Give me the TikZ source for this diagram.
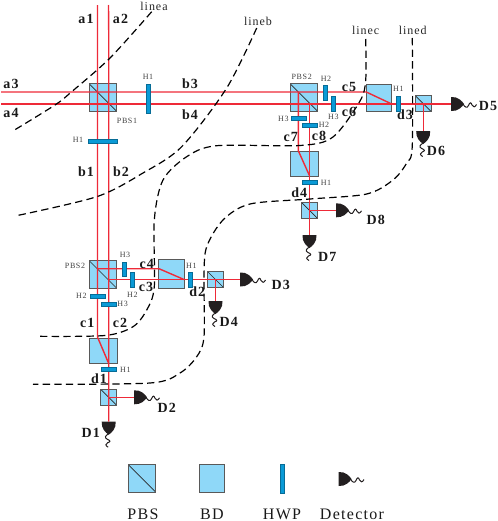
\documentclass[tikz,border=0pt]{standalone}
\usepackage{fontspec}
\setmainfont[LetterSpace=8]{Liberation Serif}
\definecolor{cubeblue}{HTML}{8FD8F8}
\definecolor{plateblue}{HTML}{0A9AD6}
\definecolor{beamred}{HTML}{EE2A38}
\definecolor{detblack}{HTML}{231F20}
\begin{document}
\begin{tikzpicture}[
  x=0.75pt, y=-0.75pt,
  cube/.style={draw=black!65, line width=0.7pt, fill=cubeblue, inner sep=0pt},
  pbs/.style={cube, minimum size=#1,
    path picture={\draw[line width=0.5pt, black!85] (path picture bounding box.north west) -- (path picture bounding box.south east);}},
  bd/.style={cube, minimum width=19pt, minimum height=20.5pt},
  hwph/.style={draw=plateblue!70!black, line width=0.2pt, fill=plateblue, inner sep=0pt, minimum width=11pt, minimum height=3pt},
  hwpv/.style={draw=plateblue!70!black, line width=0.2pt, fill=plateblue, inner sep=0pt, minimum width=3pt, minimum height=11pt},
  beam/.style={draw=beamred, line width=1.05pt},
  cut/.style={draw=black, line width=0.9pt, dash pattern=on 5.5pt off 3.2pt},
  lab/.style={font=\fontsize{10.5}{11}\selectfont\bfseries, inner sep=0pt, text=black!90},
  plate/.style={font=\fontsize{6}{6}\selectfont, inner sep=0pt, text=black!75},
  linelab/.style={font=\fontsize{9}{10}\selectfont, inner sep=0pt, text=black!85},
  legend/.style={font=\fontsize{12}{13}\selectfont, inner sep=0pt, text=black!90},
  det/.pic={
    \fill[detblack] (0,-7) .. controls (7,-7.5) and (11,-3) .. (13,0) .. controls (11,3) and (7,7.5) .. (0,7) -- cycle;
    \draw[detblack, line width=0.75pt] (12,0) .. controls (14,3.5) and (16,4.5) .. (17.5,1.5) .. controls (19,-2) and (20,-2) .. (21,1) .. controls (22,3.5) and (24,3.5) .. (25.5,0.5);
  }
]
\useasboundingbox (0,0) rectangle (498,521);

% cubes
\node[pbs=20.5pt] (pbsa) at (102.8,97.5) {};
\node[pbs=20.5pt] (pbsb) at (303.8,97.5) {};
\node[bd] (bda) at (379,97.7) {};
\node[pbs=12pt] (pbsc) at (423.2,103.5) {};
\node[bd, minimum width=21pt, minimum height=18.5pt] (bdb) at (304.3,163.7) {};
\node[pbs=12pt] (pbsd) at (309.5,210.3) {};
\node[pbs=20.5pt] (pbse) at (102.8,274.3) {};
\node[bd, minimum height=21.5pt] (bdc) at (171.5,273.8) {};
\node[pbs=12pt] (pbsf) at (215.5,279.5) {};
\node[bd, minimum width=21pt, minimum height=19pt] (bdd) at (103,351) {};
\node[pbs=12pt] (pbsg) at (108.7,397.3) {};

% free beam ends and detectors
\coordinate (ina) at (97.5,5);
\coordinate (inb) at (108.5,5);
\coordinate (inc) at (1,92);
\coordinate (ind) at (1,104);
\coordinate (dfive) at (451,104);
\coordinate (dsix) at (423.2,131);
\coordinate (dseven) at (309.5,235);
\coordinate (deight) at (336,210.3);
\coordinate (dthree) at (240,279.5);
\coordinate (dfour) at (215.5,301);
\coordinate (dtwo) at (134,397.3);
\coordinate (done) at (108.7,421.7);
\pic at (dfive) {det};
\pic[rotate=-90] at (dsix) {det};
\pic[rotate=-90] at (dseven) {det};
\pic at (deight) {det};
\pic at (dthree) {det};
\pic[rotate=-90] at (dfour) {det};
\pic at (dtwo) {det};
\pic[rotate=-90] at (done) {det};

% beams
\draw[beam] (ina) -- (97.5,337) -- (108.7,363.5);
\draw[beam] (inb) -- (108.7,30) -- (done);
\draw[beam] (inc) -- (366.3,92) -- (391.7,104);
\draw[beam] (ind) -- (dfive);
\draw[beam] (298.3,92) -- (298.3,150.7) -- (309.5,175.7);
\draw[beam] (309.5,104) -- (dseven);
\draw[beam] (97.5,268.7) -- (159,268.7) -- (184,279.5);
\draw[beam] (108.7,279.5) -- (dthree);
\draw[beam] (pbsc.center) -- (dsix);
\draw[beam] (pbsd.center) -- (deight);
\draw[beam] (pbsf.center) -- (dfour);
\draw[beam] (pbsg.center) -- (dtwo);

% wave plates
\node[hwpv, minimum height=21.5pt] (hwpa) at (148,98.5) {};
\node[hwph, minimum width=21.5pt] (hwpb) at (102.5,141) {};
\node[hwpv] (hwpc) at (325.3,92.5) {};
\node[hwpv] (hwpd) at (333,103.4) {};
\node[hwpv] (hwpe) at (397.7,103.7) {};
\node[hwph] (hwpf) at (298.3,118.2) {};
\node[hwph] (hwpg) at (309.5,125.6) {};
\node[hwph] (hwph) at (309.5,182.2) {};
\node[hwpv] (hwpi) at (124.3,269) {};
\node[hwpv] (hwpj) at (132,279.4) {};
\node[hwpv] (hwpk) at (190.3,279.4) {};
\node[hwph] (hwpl) at (97.5,296) {};
\node[hwph] (hwpm) at (108.7,304) {};
\node[hwph] (hwpn) at (108.7,369.6) {};

% cut lines
\draw[cut] plot[smooth] coordinates {(151.7,11.7) (110,58) (71.7,91.7) (55,105) (11.7,131.7)};
\draw[cut] plot[smooth] coordinates {(256.7,28) (226.7,88) (181.7,146.7) (143,173) (96.7,196.7) (15,216)};
\draw[cut] plot[smooth] coordinates {(365.7,39) (365.7,80) (360,101) (333,137) (300,145.5) (216.7,145.7) (186.7,156.7) (163,180) (154.3,220) (154.3,286.7) (146.7,310) (133,326.7) (105,335.5) (36,336.3)};
\draw[cut] plot[smooth] coordinates {(412.3,38) (412.3,145) (406.7,163) (393,180) (366.7,194) (310,199) (250,204) (223,220) (206.7,246.7) (204,275) (204,336.7) (196.7,356.7) (180,373) (150,383) (33,384.3)};

% labels
\foreach \t/\x/\y in {a1/86/19, a2/120.5/19, a3/11/84, a4/11/113, b1/86/172, b2/121/172, b3/190/84, b4/190/114.5,
  c1/87.3/323.3, c2/120/323.3, c3/146/287, c4/146.7/264.3, c5/349/86.7, c6/349/112, c7/290.7/137.3, c8/319/136,
  d1/99/378.7, d2/197.3/291.3, d3/405/115, d4/299.3/192.7,
  D1/90.7/433.3, D2/166.7/408.3, D3/280.7/285.3, D4/228.7/322, D5/488/105.7, D6/436/150.7, D7/327.3/257.3, D8/375.7/220} {
  \node[lab] (\t) at (\x,\y) {\t};
}
\foreach \i/\t/\x/\y in {1/H1/148/77, 2/H1/78/140, 3/H2/326/79.3, 4/H3/333.3/117.3, 5/H1/398.3/89.3, 6/H3/283.3/119.3,
  7/H2/324/125.3, 8/H1/326/183.3, 9/H3/125/255.3, 10/H2/132.3/294.7, 11/H1/191.3/265.7, 12/H2/81.3/296.3,
  13/H3/122.7/304.3, 14/H1/125.3/369.7} {
  \node[plate] (hl\i) at (\x,\y) {\t};
}
\node[plate] (pbsla) at (127,120.5) {PBS1};
\node[plate] (pbslb) at (301.7,77.3) {PBS2};
\node[plate] (pbslc) at (75,266) {PBS2};
\node[linelab] (linea) at (154,6) {linea};
\node[linelab] (lineb) at (258,21) {lineb};
\node[linelab] (linec) at (365.7,30.7) {linec};
\node[linelab] (lined) at (412.7,30.7) {lined};

% legend
\node[pbs=20.6pt] (legpbs) at (142,478.4) {};
\node[bd, minimum height=21pt] (legbd) at (212,478.4) {};
\node[hwpv, minimum height=22pt] (leghwp) at (281.7,478.4) {};
\coordinate (legdet) at (338.5,479);
\pic at (legdet) {det};
\node[legend] (pbstext) at (143,514) {PBS};
\node[legend] (bdtext) at (212,514) {BD};
\node[legend] (hwptext) at (282,514) {HWP};
\node[legend] (dettext) at (352,514) {Detector};
\end{tikzpicture}
\end{document}
